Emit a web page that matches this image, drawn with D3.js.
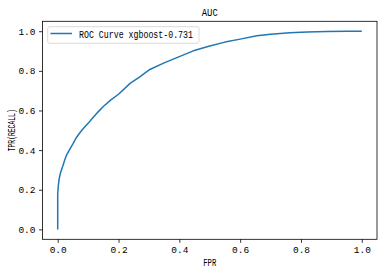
<!DOCTYPE html>
<html><head><meta charset="utf-8">
<script src="https://cdn.jsdelivr.net/npm/d3@7"></script>
<style>body{margin:0;background:#fff}svg{display:block}text{font-family:"Liberation Mono","DejaVu Sans Mono",monospace;fill:#000}</style>
</head><body>
<script>
const fpr = [0, 0, 0.002, 0.005, 0.01, 0.016, 0.022, 0.029, 0.04, 0.051, 0.06, 0.071, 0.085, 0.1, 0.115, 0.133, 0.15, 0.174, 0.2, 0.238, 0.27, 0.303, 0.35, 0.4, 0.446, 0.5, 0.55, 0.6, 0.655, 0.7, 0.764, 0.82, 0.885, 0.95, 1.0];
const tpr = [0, 0.18, 0.22, 0.257, 0.29, 0.316, 0.345, 0.375, 0.405, 0.434, 0.46, 0.484, 0.51, 0.535, 0.562, 0.593, 0.62, 0.652, 0.682, 0.737, 0.77, 0.807, 0.84, 0.872, 0.901, 0.925, 0.945, 0.96, 0.977, 0.985, 0.992, 0.996, 0.999, 1.0, 1.0];
const xTicks = [0, 0.2, 0.4, 0.6, 0.8, 1.0];
const yTicks = [0, 0.2, 0.4, 0.6, 0.8, 1.0];
const titleText = "AUC";
const xLabel = "FPR";
const yLabel = "TPR(RECALL)";
const legendLabel = "ROC Curve xgboost-0.731";

const W = 384, H = 273;
const m = {left: 42.5, right: 377, top: 21.3, bottom: 239.3};
const svg = d3.select("body").append("svg").attr("width", W).attr("height", H);
const x = d3.scaleLinear().domain([-0.05, 1.05]).range([m.left, m.right]);
const y = d3.scaleLinear().domain([-0.05, 1.05]).range([m.bottom, m.top]);

const fmt = d3.format(".1f");
const xa = svg.append("g").attr("transform", `translate(0,${m.bottom})`)
  .call(d3.axisBottom(x).tickValues(xTicks).tickFormat(fmt).tickSize(3.5).tickPadding(3.5));
const ya = svg.append("g").attr("transform", `translate(${m.left},0)`)
  .call(d3.axisLeft(y).tickValues(yTicks).tickFormat(fmt).tickSize(3.5).tickPadding(3.5));
[xa, ya].forEach(g => {
  g.select(".domain").remove();
  g.selectAll(".tick line").attr("stroke", "#000").attr("stroke-width", 0.8);
  g.selectAll(".tick text").attr("font-size", 9.5).attr("font-family", '"Liberation Mono",monospace').attr("fill", "#222");
});

const line = d3.line().x((d, i) => x(fpr[i])).y((d, i) => y(tpr[i]));
svg.append("path").datum(fpr).attr("d", line).attr("fill", "none")
  .attr("stroke", "#1f77b4").attr("stroke-width", 1.5).attr("stroke-linejoin", "round");

svg.append("rect").attr("x", m.left).attr("y", m.top).attr("width", m.right - m.left).attr("height", m.bottom - m.top)
  .attr("fill", "none").attr("stroke", "#000").attr("stroke-width", 0.8);

// legend
const lg = svg.append("g");
lg.append("rect").attr("x", 47.7).attr("y", 26.7).attr("width", 151.3).attr("height", 16.6).attr("rx", 2)
  .attr("fill", "#fff").attr("fill-opacity", 0.8).attr("stroke", "#d0d0d0").attr("stroke-width", 0.8);
lg.append("line").attr("x1", 50.5).attr("x2", 72).attr("y1", 33.5).attr("y2", 33.5)
  .attr("stroke", "#1f77b4").attr("stroke-width", 1.5);
lg.append("text").attr("x", 79).attr("y", 37.5).attr("font-size", 10)
  .attr("textLength", 114).attr("lengthAdjust", "spacingAndGlyphs").attr("fill", "#222").text(legendLabel);

svg.append("text").attr("x", (m.left + m.right) / 2).attr("y", 16).attr("text-anchor", "middle")
  .attr("font-size", 11).attr("textLength", 16).attr("lengthAdjust", "spacingAndGlyphs").text(titleText);
svg.append("text").attr("x", (m.left + m.right) / 2).attr("y", 266).attr("text-anchor", "middle")
  .attr("font-size", 10).attr("textLength", 13).attr("lengthAdjust", "spacingAndGlyphs").text(xLabel);
svg.append("text").attr("transform", `translate(15,${(m.top + m.bottom) / 2}) rotate(-90)`).attr("text-anchor", "middle")
  .attr("font-size", 10).attr("textLength", 42).attr("lengthAdjust", "spacingAndGlyphs").text(yLabel);
</script>
</body></html>
